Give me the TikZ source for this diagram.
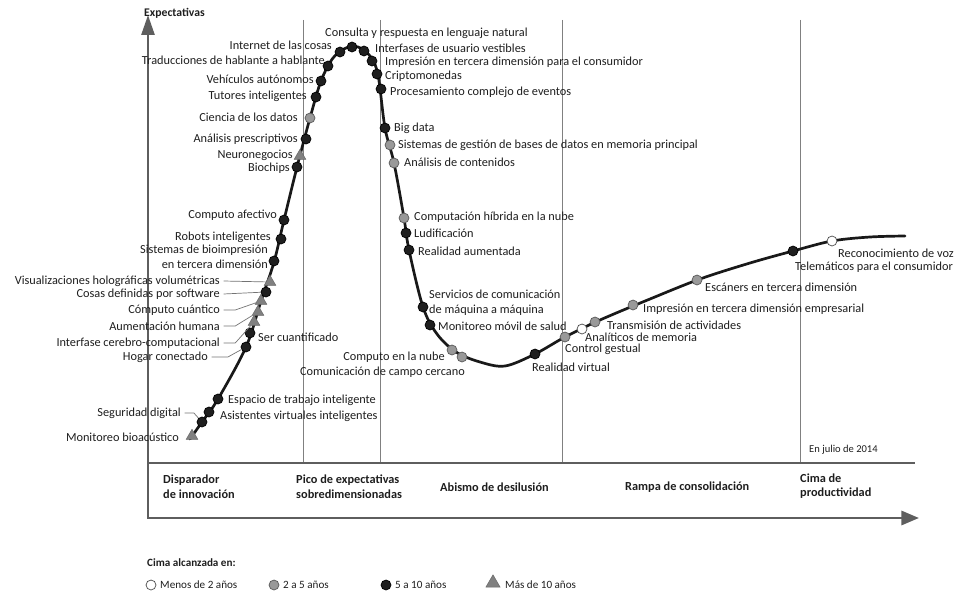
\documentclass[tikz,border=0pt]{standalone}
\usepackage{fontspec}
\setmainfont{Carlito}
\usepackage{tikz}
\usetikzlibrary{arrows.meta,shapes.geometric}
\definecolor{axisgray}{HTML}{5E5E5E}
\definecolor{txt}{HTML}{1E1E1E}

\begin{document}
\begin{tikzpicture}[
  x=0.03cm,y=-0.03cm,
  every node/.style={font=\fontsize{10.5}{12.5}\selectfont,text=txt},
  axis/.style={line width=2.4pt,draw=axisgray},
  divider/.style={line width=0.6pt,draw=black!50},
  hype/.style={line width=2.3pt,draw=black!90,line cap=round},
  leader/.style={line width=0.6pt,draw=black!55},
  tl/.style={anchor=west,inner sep=0pt,align=left},
  tr/.style={anchor=east,inner sep=0pt,align=right},
  lt2yrs/.style={circle,draw=black!70,fill=white,line width=0.6pt,minimum size=8.5pt,inner sep=0pt},
  yrs2to5/.style={circle,draw=black!65,fill=black!40,line width=0.6pt,minimum size=8.5pt,inner sep=0pt},
  yrs5to10/.style={circle,draw=black,fill=black!88,line width=0.6pt,minimum size=8.5pt,inner sep=0pt},
  gt10yrs/.style={regular polygon,regular polygon sides=3,draw=black!60,fill=black!50,line width=0.4pt,minimum size=11.5pt,inner sep=0pt},
  phaselabel/.style={font=\bfseries\fontsize{10.5}{12.5}\selectfont,anchor=west,align=left,inner sep=0pt}
]
  \useasboundingbox (0,0) rectangle (963,597);

  % fases
  \foreach \px in {303,380,562,800}
    \draw[divider] (\px,20) -- (\px,463);
  \draw[axis,{Triangle[length=17pt,width=11pt]}-{Triangle[length=15pt,width=12pt]}]
    (148,15) -- (148,518) -- (919,518);
  \draw[axis] (148,463) -- (915,463);
  \node[font=\bfseries\fontsize{10}{12}\selectfont,anchor=west,inner sep=0pt] (ylab) at (144,13) {Expectativas};
  \node[font=\fontsize{9}{11}\selectfont,anchor=west,inner sep=0pt] (fecha) at (809,450) {En julio de 2014};

  \node[phaselabel] (disp) at (163,487) {Disparador\\de innovación};
  \node[phaselabel] (pico) at (296,487) {Pico de expectativas\\sobredimensionadas};
  \node[phaselabel] (abismo) at (440,487) {Abismo de desilusión};
  \node[phaselabel] (rampa) at (625,487) {Rampa de consolidación};
  \node[phaselabel] (cima) at (800,486) {Cima de\\productividad};

  % curva
  \draw[hype] plot[smooth,tension=0.55] coordinates {
    (190,439) (202,422) (218,399) (246,347) (261,301) (274,262) (284,220)
    (297,167) (310,118) (321,81) (333,58) (346,48) (358,47) (370,56)
    (378,75) (385,128) (394,163) (404,218) (409,250) (423,307) (437,334)
    (456,352) (480,362) (505,366) (535,354) (565,337) (600,320) (650,299)
    (700,279) (750,263) (793,251) (832,241) (870,237) (905,236)};

  % tecnologias, subida
  \node[gt10yrs] (mbio) at (192,436) {};
  \node[yrs5to10] (segdig) at (202,422) {};
  \node[yrs5to10] (asist) at (209,412) {};
  \node[yrs5to10] (espacio) at (218,399) {};
  \node[yrs5to10] (hogar) at (246,347) {};
  \node[yrs5to10] (sercuant) at (250,333) {};
  \node[gt10yrs] (intcer) at (254,322) {};
  \node[gt10yrs] (aument) at (258,312) {};
  \node[gt10yrs] (cuant) at (261,301) {};
  \node[yrs5to10] (cosas) at (266,292) {};
  \node[gt10yrs] (holog) at (270,282) {};
  \node[yrs5to10] (bioimp) at (274,261) {};
  \node[yrs5to10] (robots) at (281,239) {};
  \node[yrs5to10] (afect) at (284,220) {};
  \node[yrs5to10] (biochips) at (297,167) {};
  \node[gt10yrs] (neuro) at (300,156) {};
  \node[yrs5to10] (prescr) at (306,139) {};
  \node[yrs2to5] (ciencia) at (310,118) {};
  \node[yrs5to10] (tutores) at (316,97) {};
  \node[yrs5to10] (vehic) at (321,81) {};
  \node[yrs5to10] (traduc) at (328,66) {};
  \node[yrs5to10] (iot) at (340,52) {};
  % cima
  \node[yrs5to10] (consulta) at (352,47) {};
  \node[yrs5to10] (interf) at (364,51) {};
  \node[yrs5to10] (impr) at (372,61) {};
  \node[yrs5to10] (cripto) at (377,74) {};
  \node[yrs5to10] (proc) at (381,89) {};
  % bajada
  \node[yrs5to10] (bigdata) at (385,128) {};
  \node[yrs2to5] (sgbd) at (390,145) {};
  \node[yrs2to5] (contenidos) at (394,163) {};
  \node[yrs2to5] (hibrida) at (404,218) {};
  \node[yrs5to10] (ludif) at (406,233) {};
  \node[yrs5to10] (realaum) at (409,250) {};
  \node[yrs5to10] (m2m) at (423,307) {};
  \node[yrs5to10] (movil) at (430,325) {};
  \node[yrs2to5] (nube) at (452,350) {};
  \node[yrs2to5] (nfc) at (462,357) {};
  % rampa
  \node[yrs5to10] (realvirt) at (535,354) {};
  \node[yrs2to5] (gestual) at (565,337) {};
  \node[lt2yrs] (memoria) at (582,329) {};
  \node[yrs2to5] (transm) at (595,322) {};
  \node[yrs2to5] (impremp) at (633,305) {};
  \node[yrs2to5] (escaners) at (697,280) {};
  \node[yrs5to10] (telemat) at (793,251) {};
  \node[lt2yrs] (voz) at (832,241) {};

  % etiquetas a la izquierda
  \node[tr] (iot-l) at (332,45) {Internet de las cosas};
  \node[tr] (traduc-l) at (325,60) {Traducciones de hablante a hablante};
  \node[tr] (vehic-l) at (314,79) {Vehículos autónomos};
  \node[tr] (tutores-l) at (307,96) {Tutores inteligentes};
  \node[tr] (ciencia-l) at (298,117) {Ciencia de los datos};
  \node[tr] (prescr-l) at (298,139) {Análisis prescriptivos};
  \node[tr] (neuro-l) at (293,155) {Neuronegocios};
  \node[tr] (biochips-l) at (290,168) {Biochips};
  \node[tr] (afect-l) at (277,215) {Computo afectivo};
  \node[tr] (robots-l) at (271,237) {Robots inteligentes};
  \node[tr] (bioimp-l) at (268,257) {Sistemas de bioimpresión\\en tercera dimensión};
  \node[tr] (holog-l) at (220,281) {Visualizaciones holográficas volumétricas};
  \node[tr] (cosas-l) at (220,294) {Cosas definidas por software};
  \node[tr] (cuant-l) at (220,310) {Cómputo cuántico};
  \node[tr] (aument-l) at (220,326) {Aumentación humana};
  \node[tr] (intcer-l) at (220,343) {Interfase cerebro-computacional};
  \node[tr] (hogar-l) at (208,357) {Hogar conectado};
  \node[tr] (segdig-l) at (181,413) {Seguridad digital};
  \node[tr] (mbio-l) at (179,437) {Monitoreo bioacústico};
  \node[tr] (nube-l) at (445,357) {Computo en la nube};
  \node[tr] (nfc-l) at (465,372) {Comunicación de campo cercano};

  % etiquetas a la derecha
  \node[tl] (consulta-l) at (325,33) {Consulta y respuesta en lenguaje natural};
  \node[tl] (interf-l) at (375,48) {Interfases de usuario vestibles};
  \node[tl] (impr-l) at (385,62) {Impresión en tercera dimensión para el consumidor};
  \node[tl] (cripto-l) at (385,76) {Criptomonedas};
  \node[tl] (proc-l) at (390,92) {Procesamiento complejo de eventos};
  \node[tl] (bigdata-l) at (394,128) {Big data};
  \node[tl] (sgbd-l) at (398,145) {Sistemas de gestión de bases de datos en memoria principal};
  \node[tl] (contenidos-l) at (404,162) {Análisis de contenidos};
  \node[tl] (hibrida-l) at (414,217) {Computación híbrida en la nube};
  \node[tl] (ludif-l) at (414,233) {Ludificación};
  \node[tl] (realaum-l) at (418,251) {Realidad aumentada};
  \node[tl] (m2m-l) at (429,303) {Servicios de comunicación\\de máquina a máquina};
  \node[tl] (movil-l) at (438,326) {Monitoreo móvil de salud};
  \node[tl] (sercuant-l) at (258,337) {Ser cuantificado};
  \node[tl] (espacio-l) at (228,400) {Espacio de trabajo inteligente};
  \node[tl] (asist-l) at (220,416) {Asistentes virtuales inteligentes};
  \node[tl] (realvirt-l) at (532,367) {Realidad virtual};
  \node[tl] (gestual-l) at (565,349) {Control gestual};
  \node[tl] (memoria-l) at (585,337) {Analíticos de memoria};
  \node[tl] (transm-l) at (607,325) {Transmisión de actividades};
  \node[tl] (impremp-l) at (643,309) {Impresión en tercera dimensión empresarial};
  \node[tl] (escaners-l) at (705,287) {Escáners en tercera dimensión};
  \node[tl] (voz-l) at (838,253) {Reconocimiento de voz};
  \node[tl] (telemat-l) at (795,267) {Telemáticos para el consumidor};

  % lineas guia
  \draw[leader] ([xshift=3pt]holog-l.east) -- (holog);
  \draw[leader] ([xshift=3pt]cosas-l.east) -- (cosas);
  \draw[leader] ([xshift=3pt]cuant-l.east) -- ++(10pt,0) -- (cuant);
  \draw[leader] ([xshift=3pt]aument-l.east) -- ++(10pt,0) -- (aument);
  \draw[leader] ([xshift=3pt]intcer-l.east) -- ++(10pt,0) -- (intcer);
  \draw[leader] ([xshift=3pt]hogar-l.east) -- ++(14pt,0) -- (hogar);
  \draw[leader] ([xshift=3pt]segdig-l.east) -- ++(8pt,0) -- (segdig);

  % leyenda
  \node[font=\bfseries\fontsize{9.5}{11}\selectfont,anchor=west,inner sep=0pt] (cimatit) at (147,563) {Cima alcanzada en:};
  \node[lt2yrs] (leg1) at (151,585) {};
  \node[anchor=west,inner sep=0pt,font=\fontsize{9.5}{11}\selectfont] (leg1-l) at (160,585) {Menos de 2 años};
  \node[yrs2to5] (leg2) at (274,585) {};
  \node[anchor=west,inner sep=0pt,font=\fontsize{9.5}{11}\selectfont] (leg2-l) at (283,585) {2 a 5 años};
  \node[yrs5to10] (leg3) at (386,585) {};
  \node[anchor=west,inner sep=0pt,font=\fontsize{9.5}{11}\selectfont] (leg3-l) at (395,585) {5 a 10 años};
  \node[gt10yrs,minimum size=14pt] (leg4) at (493,583) {};
  \node[anchor=west,inner sep=0pt,font=\fontsize{9.5}{11}\selectfont] (leg4-l) at (505,585) {Más de 10 años};
\end{tikzpicture}
\end{document}
